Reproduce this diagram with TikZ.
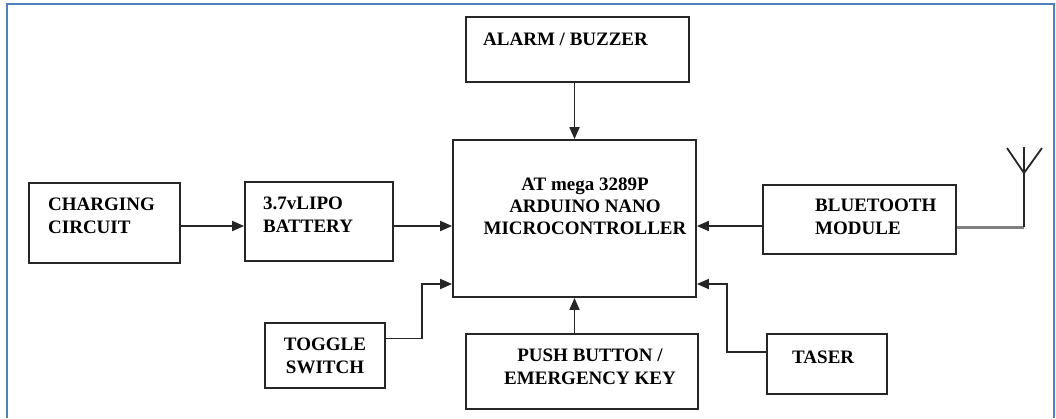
\documentclass[tikz,border=0pt]{standalone}
\usepackage{fontspec}
\setmainfont{Liberation Serif}
\usetikzlibrary{arrows.meta,calc}
\definecolor{frameblue}{RGB}{79,129,189}
\tikzset{
  blk/.style ={draw=black!85,line width=1.8pt,inner sep=0pt},
  wire/.style={draw=black!85,line width=1.8pt},
  arr/.style ={wire,-{Triangle[length=12pt,width=10pt]}},
  lbl/.style ={inner sep=0pt,font=\fontsize{19}{23}\selectfont\bfseries},
}

\begin{document}
\begin{tikzpicture}[x=1pt,y=-1pt]
  \useasboundingbox (0,0) rectangle (1056,418);
  \draw[frameblue,line width=2.5pt] (7,418) -- (7,4) -- (1054,4) -- (1054,418);

  \node[blk,minimum width=223pt,minimum height=65pt]  (alarm)  at (577.5,49.5) {};
  \node[blk,minimum width=243pt,minimum height=157pt] (mcu)    at (574.5,218.5) {};
  \node[blk,minimum width=151pt,minimum height=80pt]  (charge) at (104.5,223) {};
  \node[blk,minimum width=148pt,minimum height=79pt]  (batt)   at (319,221.5) {};
  \node[blk,minimum width=193pt,minimum height=69pt]  (bt)     at (859.5,219.5) {};
  \node[blk,minimum width=120pt,minimum height=65pt]  (toggle) at (325,355.5) {};
  \node[blk,minimum width=232pt,minimum height=75pt]  (push)   at (582,371.5) {};
  \node[blk,minimum width=120pt,minimum height=60pt]  (taser)  at (827,364) {};

  % base of a multi-line label is its last line
  \node[lbl,anchor=base west] (alarmtxt) at (483,45) {ALARM / BUZZER};
  \node[lbl,anchor=base,align=center,font=\fontsize{19}{22}\selectfont\bfseries] (mcutxt) at (585,234)
    {AT mega 3289P\\ARDUINO NANO\\MICROCONTROLLER};
  \node[lbl,anchor=base west,align=left] (chargetxt) at (48,233) {CHARGING\\CIRCUIT};
  \node[lbl,anchor=base west,align=left] (batttxt) at (263,232) {3.7vLIPO\\BATTERY};
  \node[lbl,anchor=base west,align=left] (bttxt) at (815,234.5) {BLUETOOTH\\MODULE};
  \node[lbl,anchor=base,align=center] (toggletxt) at (325,373.5) {TOGGLE\\SWITCH};
  \node[lbl,anchor=base,align=center] (pushtxt) at (590,384.5) {PUSH BUTTON /\\EMERGENCY KEY};
  \node[lbl,anchor=base west] (tasertxt) at (792,363.5) {TASER};

  \coordinate (row) at (0,226);
  \coordinate (low) at (0,284);
  \coordinate (ant) at (1024,227);

  \draw[arr] (charge.east |- row) -- (batt.west |- row);
  \draw[arr] (batt.east |- row) -- (mcu.west |- row);
  \draw[arr] (bt.west |- row) -- (mcu.east |- row);
  \draw[arr] (alarm.south -| mcu) -- (mcu.north);
  \draw[arr] (push.north -| mcu) -- (mcu.south);
  \draw[arr] ([yshift=17pt]toggle.east) -- ++(36,0) |- (mcu.west |- low);
  \draw[arr] ([yshift=12pt]taser.west) -- ++(-39,0) |- (mcu.east |- low);

  \draw[black!50,line width=3pt] (bt.east |- ant) -- (ant);
  \draw[wire] (ant) -- ++(0,-80);
  \draw[wire] (1007,148) -- (ant |- 0,173) -- (1042,148);
\end{tikzpicture}
\end{document}
